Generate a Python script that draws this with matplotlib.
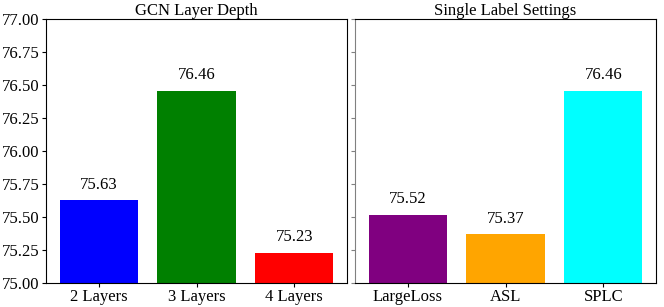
import matplotlib
matplotlib.use("Agg")
import matplotlib.pyplot as plt

plt.rcParams["font.family"] = ["Liberation Serif", "DejaVu Serif"]
plt.rcParams["font.size"] = 12

depth_labels = ["2 Layers", "3 Layers", "4 Layers"]
depth_values = [75.63, 76.46, 75.23]
depth_colors = ["blue", "green", "red"]

setting_labels = ["LargeLoss", "ASL", "SPLC"]
setting_values = [75.52, 75.37, 76.46]
setting_colors = ["purple", "orange", "cyan"]


def draw(ax, labels, values, colors, title):
    bars = ax.bar(labels, values, color=colors, width=0.8)
    for b, v in zip(bars, values):
        ax.text(b.get_x() + b.get_width() / 2, v + 0.055, f"{v:.2f}",
                ha="center", va="bottom", fontsize=12)
    ax.set_title(title, fontsize=12, pad=3)
    ax.tick_params(axis="both", length=3, pad=1.5, labelsize=12)


fig, (ax1, ax2) = plt.subplots(1, 2, figsize=(6.64, 3.07), dpi=100, sharey=True)
fig.subplots_adjust(left=0.0693, right=0.988, top=0.9365, bottom=0.078, wspace=0.0266)

draw(ax1, depth_labels, depth_values, depth_colors, "GCN Layer Depth")
draw(ax2, setting_labels, setting_values, setting_colors, "Single Label Settings")

ax1.set_ylim(75, 77)
ax1.set_yticks([75 + 0.25 * i for i in range(9)])
ax1.set_yticklabels([f"{75 + 0.25 * i:.2f}" for i in range(9)])

ax2.spines["left"].set_color("gray")
ax2.tick_params(axis="y", color="gray")

fig.savefig("out.png")
